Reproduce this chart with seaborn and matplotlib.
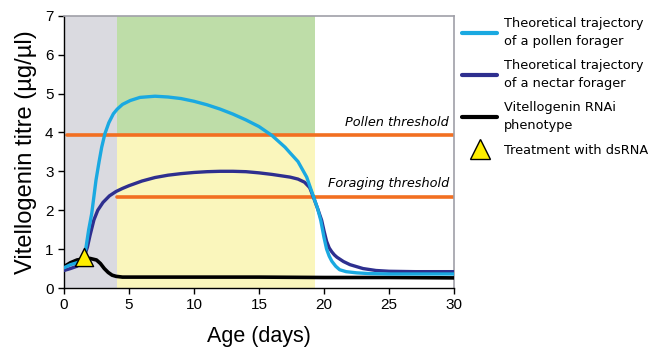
import matplotlib
matplotlib.use("Agg")
import matplotlib.pyplot as plt
import seaborn as sns
import pandas as pd
from matplotlib.lines import Line2D

# ---- data ----
pollen_x = [0, 0.5, 1, 1.5, 1.7, 1.9, 2.13, 2.3, 2.46, 2.7, 2.9, 3.15, 3.45, 3.8, 4.1, 4.5, 5.1, 5.85, 7, 8, 9, 10, 11, 12,
            13, 14, 15, 16, 17, 17.4, 18, 18.67, 19.2, 19.5, 19.75, 20.0, 20.2, 20.4, 20.6, 20.9, 21.2, 21.7, 22.5, 23.5, 25, 27, 30]
pollen_y = [0.52, 0.6, 0.65, 0.72, 1.06, 1.5, 1.91, 2.35, 2.77, 3.25, 3.62, 3.97, 4.25, 4.48, 4.6, 4.72, 4.82, 4.9, 4.93, 4.91, 4.87, 4.8, 4.71, 4.6,
            4.47, 4.32, 4.15, 3.92, 3.62, 3.47, 3.25, 2.85, 2.34, 2.05, 1.74, 1.3, 1.0, 0.82, 0.69, 0.56, 0.47, 0.42, 0.39, 0.37, 0.36, 0.36, 0.36]

nectar_x = [0, 0.5, 1, 1.5, 1.8, 2.0, 2.3, 2.6, 3.0, 3.5, 4.0, 4.5, 5, 6, 7, 8, 9, 10, 11, 12, 13, 14, 15, 16,
            17, 17.4, 18, 18.5, 18.9, 19.18, 19.5, 19.82, 20.0, 20.2, 20.4, 20.6, 20.8, 21, 21.5, 22, 22.5, 23, 24, 25, 27, 30]
nectar_y = [0.45, 0.5, 0.56, 0.75, 1.05, 1.35, 1.75, 2.0, 2.2, 2.37, 2.48, 2.56, 2.63, 2.75, 2.84, 2.9, 2.94, 2.97, 2.99, 3.0, 3.0, 2.99, 2.96, 2.92,
            2.87, 2.85, 2.8, 2.72, 2.58, 2.34, 2.05, 1.74, 1.47, 1.2, 1.03, 0.93, 0.85, 0.79, 0.68, 0.6, 0.55, 0.5, 0.45, 0.43, 0.42, 0.42]

rnai_x = [0, 0.5, 1, 1.5, 2, 2.5, 2.8, 3.1, 3.4, 3.7, 4.0, 4.5, 5, 10, 15, 20, 25, 30]
rnai_y = [0.55, 0.65, 0.72, 0.75, 0.76, 0.72, 0.63, 0.5, 0.4, 0.33, 0.3, 0.28, 0.28, 0.28, 0.28, 0.27, 0.27, 0.26]

treatment_x = [1.5]
treatment_y = [0.8]

pollen_threshold = 3.93
foraging_threshold = 2.35
young_end = 4.1
forage_end = 19.3

x_ticks = [0, 5, 10, 15, 20, 25, 30]
y_ticks = [0, 1, 2, 3, 4, 5, 6, 7]

labels = ["Theoretical trajectory\nof a pollen forager",
          "Theoretical trajectory\nof a nectar forager",
          "Vitellogenin RNAi\nphenotype",
          "Treatment with dsRNA"]

c_pollen = "#1aa9e1"
c_nectar = "#2e2f8f"
c_rnai = "#000000"
c_orange = "#f26f21"

sns.set_style("ticks")
plt.rcParams['font.family'] = ['Liberation Sans', 'DejaVu Sans']
plt.rcParams['text.color'] = 'black'
plt.rcParams['axes.labelcolor'] = 'black'
plt.rcParams['xtick.color'] = 'black'
plt.rcParams['ytick.color'] = 'black'

fig = plt.figure(figsize=(6.51, 3.6), dpi=100)
ax = fig.add_axes([64/651, 1 - 288/360, 390/651, (288 - 15.7)/360])

# background regions
ax.axvspan(0, young_end, color="#dadae0", lw=0, zorder=0)
ax.fill_between([young_end, forage_end], pollen_threshold, 7, color="#bedda8", lw=0, zorder=0)
ax.fill_between([young_end, forage_end], 0, pollen_threshold, color="#faf6bc", lw=0, zorder=0)

# thresholds
ax.plot([0.2, 30], [pollen_threshold, pollen_threshold], color=c_orange, lw=2.6, zorder=2)
ax.plot([young_end, 30], [foraging_threshold, foraging_threshold], color=c_orange, lw=2.6, zorder=2)
ax.text(29.6, pollen_threshold + 0.16, "Pollen threshold", ha="right", va="bottom",
        fontsize=9.3, style="italic", family=["DejaVu Sans"])
ax.text(29.6, foraging_threshold + 0.16, "Foraging threshold", ha="right", va="bottom",
        fontsize=9.3, style="italic", family=["DejaVu Sans"])

df_p = pd.DataFrame({"x": pollen_x, "y": pollen_y})
df_n = pd.DataFrame({"x": nectar_x, "y": nectar_y})
df_r = pd.DataFrame({"x": rnai_x, "y": rnai_y})
sns.lineplot(data=df_r, x="x", y="y", color=c_rnai, lw=2.6, ax=ax, zorder=3, sort=False)
sns.lineplot(data=df_n, x="x", y="y", color=c_nectar, lw=2.4, ax=ax, zorder=4, sort=False)
sns.lineplot(data=df_p, x="x", y="y", color=c_pollen, lw=2.4, ax=ax, zorder=5, sort=False)
ax.scatter(treatment_x, treatment_y, marker="^", s=170, color="#ffee00", edgecolor="black",
           linewidth=1.0, zorder=6)

ax.set_xlim(0, 30)
ax.set_ylim(0, 7)
ax.set_xticks(x_ticks)
ax.set_yticks(y_ticks)
ax.tick_params(labelsize=11, length=4, width=1, color="black", direction="out")
ax.set_xlabel("Age (days)", fontsize=15.5, labelpad=10)
ax.set_ylabel("Vitellogenin titre (µg/µl)", fontsize=17, labelpad=6)
for s in ["left", "bottom"]:
    ax.spines[s].set_color("black")
    ax.spines[s].set_linewidth(1)
for s in ["top", "right"]:
    ax.spines[s].set_visible(True)
    ax.spines[s].set_color("#a0a0a8")
    ax.spines[s].set_linewidth(1.2)

handles = [Line2D([], [], color=c_pollen, lw=3),
           Line2D([], [], color=c_nectar, lw=3),
           Line2D([], [], color=c_rnai, lw=3),
           Line2D([], [], color="none", marker="^", markersize=14,
                  markerfacecolor="#ffee00", markeredgecolor="black", markeredgewidth=1)]
leg = fig.legend(handles, labels, loc="upper left", bbox_to_anchor=(457/651, 1 - 12/360),
                 frameon=False, prop={"family": "DejaVu Sans", "size": 9.3},
                 handlelength=2.7, handletextpad=0.55, labelspacing=0.9, borderaxespad=0)
for t in leg.get_texts():
    t.set_linespacing(1.45)

fig.savefig("out.png", dpi=100)
